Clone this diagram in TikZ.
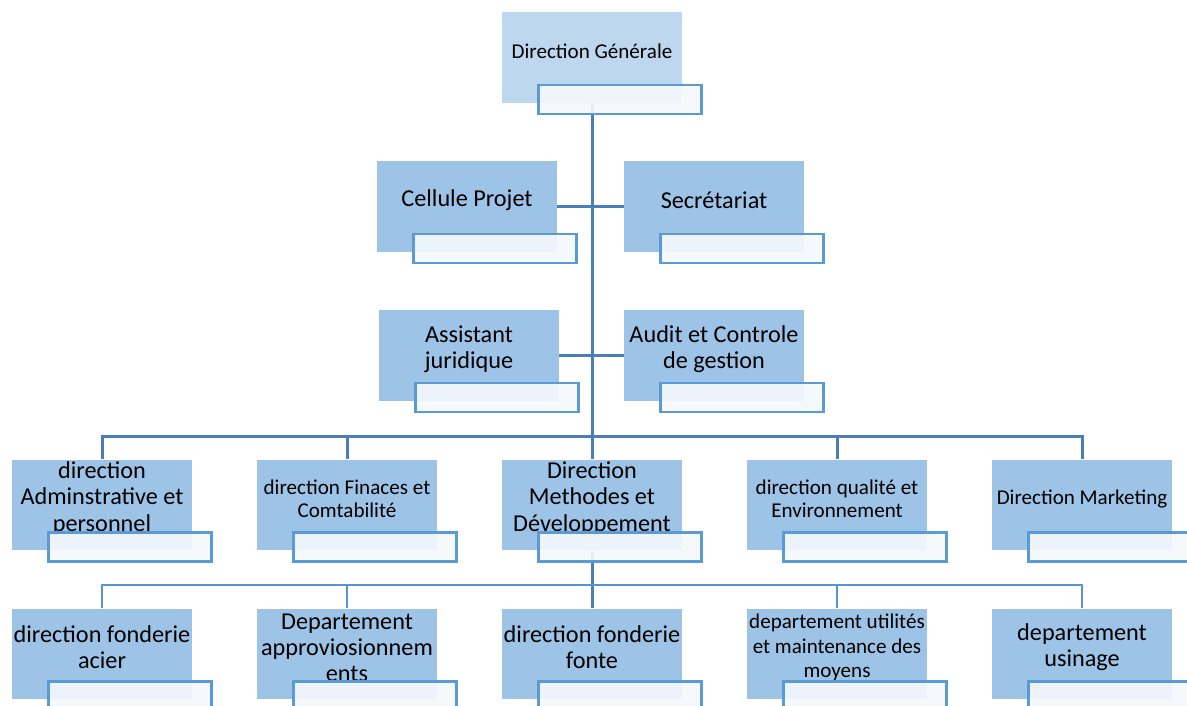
\documentclass[tikz,border=0pt]{standalone}
\usepackage{fontspec}
\setmainfont{Carlito}
\usetikzlibrary{calc}
\definecolor{boxblue}{RGB}{157,195,230}
\definecolor{topblue}{RGB}{189,215,238}
\definecolor{linkblue}{RGB}{74,126,187}
\definecolor{linklight}{RGB}{88,148,208}
\definecolor{frameblue}{RGB}{91,155,213}
\definecolor{paleblue}{RGB}{244,248,252}
\tikzset{
	unit/.style={fill=boxblue, minimum width=3.6cm, minimum height=1.82cm, inner sep=0pt},
	big/.style={align=center, font=\fontsize{13.8}{14.9}\selectfont},
	small/.style={align=center, font=\fontsize{12}{13.1}\selectfont},
	mid/.style={align=center, font=\fontsize{12}{14}\selectfont},
	subbox/.style={draw=frameblue, line width=0.5mm, fill=paleblue, fill opacity=0.92, minimum width=3.26cm, minimum height=0.58cm, inner sep=0pt},
	link/.style={draw=linkblue, line width=0.6mm},
	linkb/.style={draw=linklight, line width=0.5mm},
}
\def\poste[#1](#2)(#3)[#4]#5{\node[#1] (#2) at (#3) {}; \node[#4] (#2-t) at ($(#2)+(0,-6.5)$) {#5};}

\begin{document}
\begin{tikzpicture}[x=0.02cm, y=-0.02cm]
			%%%%% PAGE %%%%%
			\path[use as bounding box, clip] (0,0) rectangle (1187,706);
			
			%%%%% BOXES %%%%%
			\poste[unit, fill=topblue](dg)(592,57.5)[small]{Direction Générale}
			
			\poste[unit](cp)(467,206.5)[big]{Cellule Projet}
			\poste[unit](sec)(714,206.5)[big]{Secrétariat}
			\poste[unit](aj)(469,355.5)[big]{Assistant\\juridique}
			\poste[unit](aud)(714,355.5)[big]{Audit et Controle\\de gestion}
			
			\poste[unit](dap)(102,505)[big]{direction\\Adminstrative et\\personnel}
			\poste[unit](dfc)(347,505)[small]{direction Finaces et\\Comtabilité}
			\poste[unit](dm)(592,505)[big]{Direction\\Methodes et\\Développement}
			\poste[unit](dqe)(837,505)[small]{direction qualité et\\Environnement}
			\poste[unit](dmk)(1082,505)[small]{Direction Marketing}
			
			\poste[unit](dfa)(102,654)[big]{direction fonderie\\acier}
			\poste[unit](dapp)(347,654)[big]{Departement\\approviosionnem\\ents}
			\poste[unit](dff)(592,654)[big]{direction fonderie\\fonte}
			\poste[unit](dum)(837,654)[mid]{departement utilités\\et maintenance des\\moyens}
			\poste[unit](dus)(1082,654)[big]{departement\\usinage}
			
			%%%%% LINKS %%%%%
			\draw[link] (dg.south) -- (dm.north);
			\draw[link] (cp.east) -- (sec.west);
			\draw[link] (aj.east) -- (aud.west);
			
			\coordinate (bus1) at (592,436);
			\foreach \n in {dap,dfc,dqe,dmk}
				\draw[link] (bus1) -| (\n.north);
			
			\draw[link] (dm.south) -- (dff.north);
			\coordinate (bus2) at (592,585);
			\foreach \n in {dfa,dapp,dum,dus}
				\draw[linkb] (bus2) -| (\n.north);
			
			%%%%% SUB BOXES %%%%%
			\foreach \n in {dg,cp,sec,aj,aud,dap,dfc,dm,dqe,dmk,dfa,dapp,dff,dum,dus}
				\node[subbox] (\n-w) at ($(\n)+(28,42)$) {};
			
\end{tikzpicture}
\end{document}
